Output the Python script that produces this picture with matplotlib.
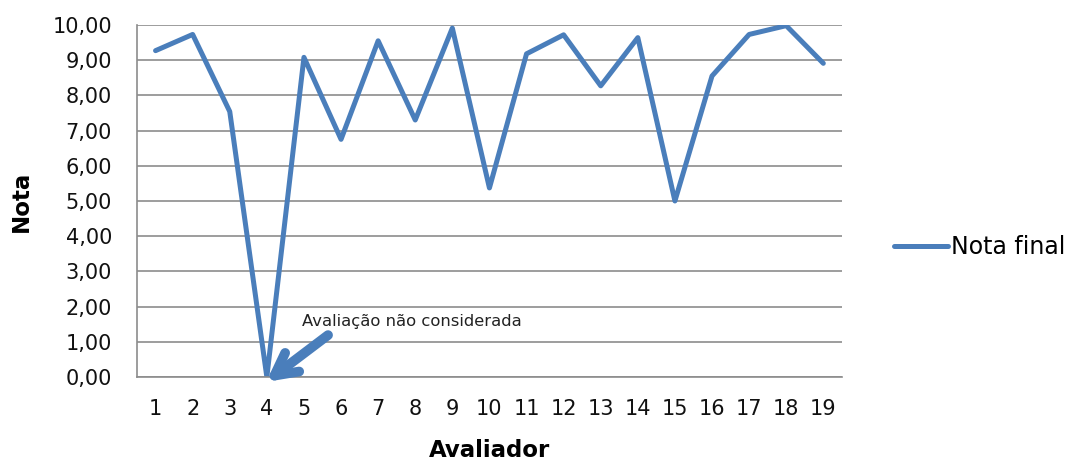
import matplotlib.pyplot as plt
from matplotlib.ticker import FuncFormatter

avaliador = list(range(1, 20))
nota_final = [9.27, 9.73, 7.54, 0.0, 9.08, 6.75, 9.55, 7.30, 9.91, 5.37,
              9.18, 9.72, 8.27, 9.64, 5.00, 8.55, 9.73, 9.98, 8.91]

plt.rcParams['font.family'] = ['DejaVu Sans']

fig = plt.figure(figsize=(10.67, 4.62), dpi=100)
ax = fig.add_axes([0.1284, 0.184, 0.6606, 0.762])

line, = ax.plot(avaliador, nota_final, color='#4A7EBB', linewidth=3.6,
                solid_joinstyle='round', solid_capstyle='round', label='Nota final')

ax.set_xlim(0.5, 19.5)
ax.set_ylim(0, 10)
ax.set_yticks(range(0, 11))
ax.set_xticks(avaliador)
ax.yaxis.set_major_formatter(FuncFormatter(lambda v, p: f"{v:.2f}".replace('.', ',')))
ax.grid(axis='y', color='#8c8c8c', linewidth=1.2)
ax.set_axisbelow(True)
for s in ['top', 'right']:
    ax.spines[s].set_visible(False)
for s in ['bottom', 'left']:
    ax.spines[s].set_color('#8c8c8c')
    ax.spines[s].set_linewidth(1.2)
ax.tick_params(length=0, labelsize=15, colors='#111111')
ax.tick_params(axis='y', pad=18)
ax.tick_params(axis='x', pad=16)

ax.set_xlabel('Avaliador', fontsize=16.5, fontweight='bold', labelpad=14)
ax.set_ylabel('Nota', fontsize=16.5, fontweight='bold', labelpad=14)

# open arrow pointing to the discarded evaluation
ax.annotate('', xy=(3.98, -0.14), xytext=(5.65, 1.19), annotation_clip=False,
            arrowprops=dict(arrowstyle='->,head_length=0.8,head_width=0.42',
                            color='#4A7EBB', lw=7, mutation_scale=20,
                            shrinkA=0, shrinkB=0, capstyle='round', joinstyle='round'))
ax.text(4.95, 1.45, 'Avaliação não considerada', fontsize=11.8, color='#222222')

fig.legend(handles=[line], loc='center left', bbox_to_anchor=(0.818, 0.465),
           frameon=False, fontsize=17, handlelength=2.3, handletextpad=0.12)

fig.savefig('out.png', dpi=100)
